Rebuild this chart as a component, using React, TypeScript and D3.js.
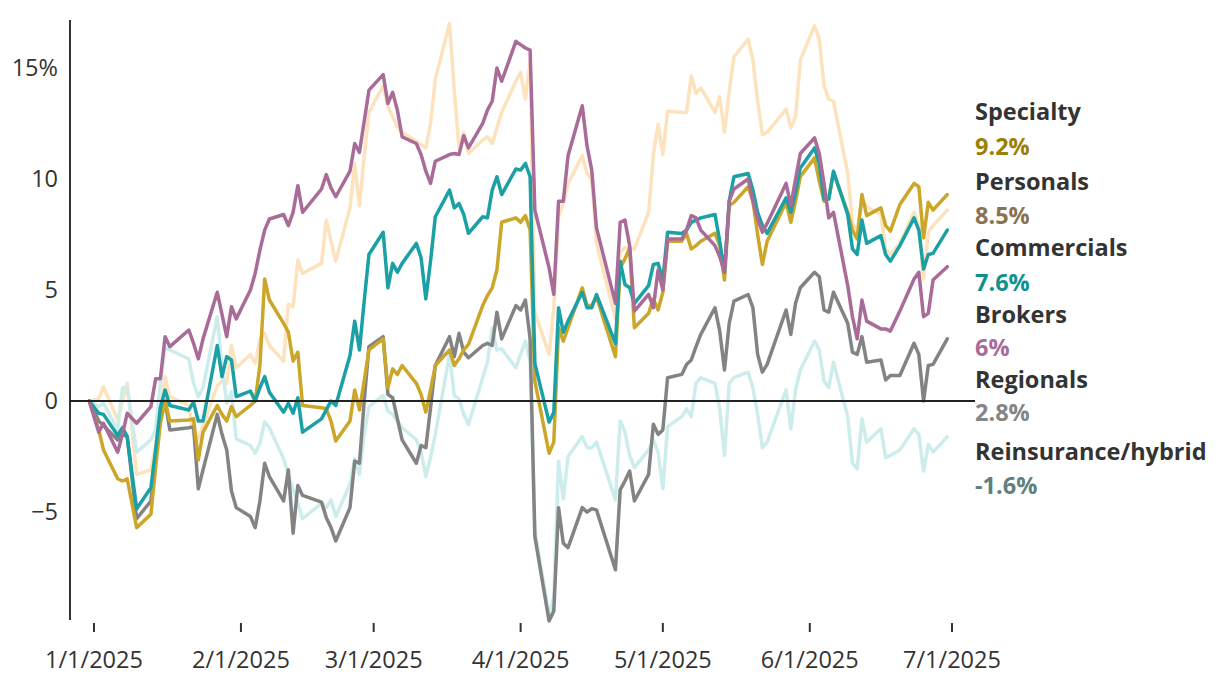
import React from "react";
import * as d3 from "d3";

const dates: string[] = [
  "2024-12-31","2025-01-02","2025-01-03","2025-01-06","2025-01-07","2025-01-08","2025-01-10",
  "2025-01-13","2025-01-14","2025-01-15","2025-01-16","2025-01-17","2025-01-21","2025-01-22",
  "2025-01-23","2025-01-24","2025-01-27","2025-01-28","2025-01-29","2025-01-30","2025-01-31",
  "2025-02-03","2025-02-04","2025-02-05","2025-02-06","2025-02-07","2025-02-10","2025-02-11",
  "2025-02-12","2025-02-13","2025-02-14","2025-02-18","2025-02-19","2025-02-20","2025-02-21",
  "2025-02-24","2025-02-25","2025-02-26","2025-02-27","2025-02-28","2025-03-03","2025-03-04",
  "2025-03-05","2025-03-06","2025-03-07","2025-03-10","2025-03-11","2025-03-12","2025-03-13",
  "2025-03-14","2025-03-17","2025-03-18","2025-03-19","2025-03-20","2025-03-21","2025-03-24",
  "2025-03-25","2025-03-26","2025-03-27","2025-03-28","2025-03-31","2025-04-01","2025-04-02",
  "2025-04-03","2025-04-04","2025-04-07","2025-04-08","2025-04-09","2025-04-10","2025-04-11",
  "2025-04-14","2025-04-15","2025-04-16","2025-04-17","2025-04-21","2025-04-22","2025-04-23",
  "2025-04-24","2025-04-25","2025-04-28","2025-04-29","2025-04-30","2025-05-01","2025-05-02",
  "2025-05-05","2025-05-06","2025-05-07","2025-05-08","2025-05-09","2025-05-12","2025-05-13",
  "2025-05-14","2025-05-15","2025-05-16","2025-05-19","2025-05-20","2025-05-21","2025-05-22",
  "2025-05-23","2025-05-27","2025-05-28","2025-05-29","2025-05-30","2025-06-02","2025-06-03",
  "2025-06-04","2025-06-05","2025-06-06","2025-06-09","2025-06-10","2025-06-11","2025-06-12",
  "2025-06-13","2025-06-16","2025-06-17","2025-06-18","2025-06-20","2025-06-23","2025-06-24",
  "2025-06-25","2025-06-26","2025-06-27","2025-06-30",
];

const specialty: number[] = [
  0, -1.3, -2.2, -3.5, -3.6, -3.5, -5.7, -5.1, -3.0, -1.0, 0.0, -0.9, -0.85, -0.8, -2.65, -1.4,
  -0.2, -0.6, -0.9, -0.25, -0.7, -0.2, 0.0, 1.6, 5.5, 4.55, 3.5, 3.1, 1.8, 2.2, -0.2, -0.3, -0.35,
  -0.9, -1.8, -0.9, 0.5, -0.4, 0.9, 2.3, 2.8, 0.6, 1.45, 1.2, 1.6, 0.8, 0.3, -0.5, 0.5, 1.6, 2.3,
  1.6, 1.9, 2.3, 2.55, 4.3, 4.75, 5.1, 5.9, 8.05, 8.25, 8.05, 8.35, 7.7, 0.9, -2.35, -1.85, 3.3,
  2.7, 3.3, 5.1, 4.3, 4.3, 4.7, 2.0, 6.0, 6.4, 6.9, 3.3, 3.95, 4.6, 4.1, 4.9, 7.2, 7.2, 7.55, 6.85,
  7.0, 7.2, 7.55, 7.0, 5.45, 8.8, 8.95, 9.65, 9.0, 7.5, 6.15, 7.2, 8.95, 8.05, 9.0, 10.1, 10.95,
  9.9, 9.0, 9.1, 10.3, 8.5, 7.7, 7.3, 9.3, 8.35, 8.7, 7.9, 7.65, 8.85, 9.8, 9.65, 7.35, 8.95, 8.6,
  9.3,
];

const personals: number[] = [
  0, 0.1, 0.65, -0.85, 0.0, 0.8, -3.3, -3.1, -2.0, -0.3, 1.1, 0.2, -0.2, -1.5, -1.7, -1.1, 0.7,
  0.9, 0.8, 2.5, 1.5, 2.1, 1.7, 2.8, 3.05, 2.5, 1.8, 4.35, 4.25, 6.35, 5.75, 6.2, 8.15, 7.2, 6.3,
  8.7, 10.7, 8.8, 11.0, 13.0, 14.2, 13.25, 12.8, 12.35, 12.1, 11.7, 11.55, 11.4, 12.5, 14.5, 17.0,
  14.0, 11.4, 12.1, 11.15, 11.75, 11.9, 11.6, 12.3, 13.0, 14.4, 14.8, 13.6, 15.3, 4.0, 2.1, 4.2,
  8.3, 8.9, 9.8, 11.05, 10.25, 10.0, 7.1, 3.7, 6.7, 6.9, 6.9, 6.85, 8.5, 11.1, 12.45, 11.1, 13.05,
  13.0, 13.0, 14.65, 13.85, 14.1, 13.0, 13.7, 12.1, 13.95, 15.5, 16.3, 15.35, 13.5, 12.0, 12.1,
  13.15, 12.3, 12.8, 15.35, 16.9, 16.3, 14.2, 13.6, 13.5, 10.25, 8.0, 7.7, 9.05, 8.75, 8.4, 6.85,
  6.6, 7.1, 8.5, 7.9, 5.5, 7.6, 7.9, 8.6,
];

const commercials: number[] = [
  0, -0.55, -0.6, -1.55, -1.2, -1.6, -4.85, -3.9, -2.2, -0.3, 0.5, -0.2, -0.4, -0.05, -0.9, -0.9,
  2.5, 1.1, 2.0, 1.85, 0.2, 0.45, 0.0, 0.6, 1.1, 0.4, -0.5, -0.1, -0.55, 0.15, -1.4, -0.8, -0.4,
  0.0, -0.2, 2.05, 3.6, 2.3, 4.5, 6.6, 7.6, 5.1, 6.2, 5.8, 6.2, 7.1, 6.45, 4.6, 6.3, 8.3, 9.5, 8.7,
  8.9, 8.4, 7.55, 8.3, 8.25, 9.5, 10.1, 9.3, 10.45, 10.4, 10.7, 10.1, 1.7, -0.95, -0.5, 4.2, 3.1,
  3.6, 4.9, 4.2, 4.2, 4.8, 2.6, 6.3, 5.25, 5.1, 4.4, 5.2, 6.15, 6.2, 5.45, 7.6, 7.55, 7.7, 8.05,
  8.15, 8.25, 8.4, 7.2, 5.8, 9.0, 10.1, 10.25, 9.5, 8.5, 7.9, 7.55, 9.15, 8.5, 9.4, 10.5, 11.4,
  10.7, 9.1, 9.1, 10.35, 8.4, 6.85, 6.6, 8.15, 7.1, 7.45, 6.6, 6.3, 7.0, 8.25, 7.7, 5.95, 6.6,
  6.65, 7.7,
];

const brokers: number[] = [
  0, -1.4, -1.0, -2.3, -1.5, -0.55, -1.0, -0.25, 1.0, 1.0, 2.9, 2.45, 3.2, 2.6, 1.9, 2.8, 4.9, 3.9,
  2.9, 4.25, 3.7, 5.0, 5.75, 6.8, 7.7, 8.2, 8.4, 7.9, 8.5, 9.7, 8.5, 9.55, 10.2, 9.6, 9.2, 10.35,
  11.6, 11.2, 12.6, 14.0, 14.7, 13.4, 13.9, 13.1, 11.9, 11.6, 11.1, 10.35, 9.8, 10.8, 11.1, 11.15,
  11.1, 11.95, 11.4, 12.5, 13.1, 13.5, 15.0, 14.4, 16.2, 16.05, 15.9, 15.8, 8.6, 6.0, 4.8, 9.0,
  9.0, 11.05, 13.3, 11.5, 10.4, 7.8, 4.4, 8.05, 8.15, 7.0, 4.05, 4.8, 4.2, 5.9, 5.0, 7.3, 7.3, 7.7,
  8.35, 8.25, 7.7, 7.0, 6.5, 5.8, 9.0, 9.55, 10.0, 9.0, 8.2, 7.6, 8.0, 9.8, 8.8, 10.0, 11.15,
  11.85, 11.15, 9.8, 8.25, 8.5, 5.2, 3.8, 2.8, 4.55, 3.6, 3.25, 3.25, 3.15, 4.05, 5.5, 5.8, 3.8,
  3.95, 5.45, 6.05,
];

const regionals: number[] = [
  0, -0.9, -1.1, -1.75, -1.5, -1.6, -5.3, -4.5, -2.5, -0.8, 0.0, -1.3, -1.2, -1.15, -3.95, -3.1,
  -0.6, -1.5, -2.2, -4.05, -4.8, -5.2, -5.7, -4.5, -2.8, -3.4, -4.5, -3.1, -5.95, -3.8, -4.25,
  -4.55, -5.25, -5.7, -6.3, -4.8, -2.7, -2.8, 0.0, 2.45, 2.9, 0.3, 0.15, -0.8, -1.75, -2.8, -2.0,
  -2.1, -0.3, 1.6, 2.9, 2.0, 3.05, 2.2, 1.95, 2.5, 2.6, 2.5, 4.0, 2.8, 4.3, 4.1, 4.55, 2.8, -6.1,
  -9.9, -9.45, -4.8, -6.4, -6.6, -4.8, -5.0, -4.85, -4.9, -7.6, -4.0, -3.6, -3.15, -4.5, -3.3,
  -1.05, -1.5, -1.3, 1.05, 1.2, 1.65, 1.85, 2.45, 3.0, 4.2, 3.15, 1.4, 3.5, 4.5, 4.8, 4.2, 2.1,
  1.3, 1.65, 4.1, 3.0, 4.4, 5.1, 5.8, 5.6, 4.1, 4.0, 4.9, 3.5, 2.2, 2.1, 2.9, 1.75, 1.85, 0.95,
  1.15, 1.15, 2.6, 2.1, 0.0, 1.6, 1.65, 2.8,
];

const reinsurance: number[] = [
  0, -0.25, -0.1, -1.3, 0.6, 0.6, -2.3, -1.75, -1.3, 0.8, 2.4, 2.3, 1.9, 0.8, 0.2, 0.6, 3.8, 1.6,
  -0.1, 0.4, -1.7, -2.0, -2.35, -1.9, -0.95, -1.2, -2.6, -3.3, -4.0, -4.6, -5.3, -4.6, -4.8,
  -4.45, -5.2, -3.75, -2.6, -3.3, -1.5, -0.25, 0.25, -0.45, -0.6, -0.9, -1.2, -1.75, -2.3, -3.4,
  -2.55, -1.5, 2.1, 0.25, 0.1, -0.6, -1.05, 1.05, 1.75, 3.3, 2.3, 2.35, 1.5, 2.1, 2.7, 1.8, -5.8,
  -9.7, -8.8, -2.7, -4.4, -2.5, -1.6, -2.1, -2.1, -1.85, -4.45, -0.9, -1.4, -2.45, -3.0, -2.2,
  -1.75, -2.3, -3.95, -1.15, -0.7, -0.35, -0.7, 0.8, 1.05, 0.8, -0.35, -2.45, 0.8, 1.05, 1.3, 0.6,
  -0.6, -2.1, -1.85, 0.5, -1.25, 0.5, 1.4, 2.7, 2.3, 0.9, 0.6, 1.75, -0.7, -2.8, -3.05, -0.8,
  -1.85, -1.25, -2.55, -2.45, -2.2, -1.25, -1.5, -3.15, -1.95, -2.3, -1.6,
];

const legendNames: string[] = ["Specialty", "Personals", "Commercials", "Brokers", "Regionals", "Reinsurance/hybrid"];
const legendValues: string[] = ["9.2%", "8.5%", "7.6%", "6%", "2.8%", "-1.6%"];
const xTickDates: string[] = ["2025-01-01", "2025-02-01", "2025-03-01", "2025-04-01", "2025-05-01", "2025-06-01", "2025-07-01"];
const yTicks: number[] = [-5, 0, 5, 10, 15];

const W = 1220;
const H = 688;
const FONT = "'Open Sans', 'Noto Sans', sans-serif";

const parse = (s: string) => {
  const [y, m, d] = s.split("-").map(Number);
  return new Date(y, m - 1, d);
};

export default function App() {
  const x = d3.scaleTime().domain([parse("2025-01-01"), parse("2025-07-01")]).range([94, 952]);
  const y = d3.scaleLinear().domain([-9.86, 17.16]).range([620, 20]);
  const parsed = dates.map(parse);

  const line = d3
    .line<number>()
    .x((_, i) => x(parsed[i]))
    .y((v) => y(v));

  const series = [
    { values: personals, color: "#fde3bd" },
    { values: reinsurance, color: "#cdeded" },
    { values: regionals, color: "#838383" },
    { values: specialty, color: "#cba629" },
    { values: commercials, color: "#1ba0a5" },
    { values: brokers, color: "#a96b98" },
  ];

  const valueColors = ["#9c7f05", "#8a7352", "#0f9190", "#a96b98", "#858585", "#608080"];
  const nameY = [120, 190, 256, 323, 388, 460];
  const valY = [155, 224, 291, 356, 421, 494];
  const fmtTick = d3.timeFormat("%-m/%-d/%Y");
  const fmtY = (v: number) => (v === 15 ? "15%" : d3.format("")(v).replace("-", "\u2212"));
  const FS = 23.5;

  return (
    <svg width={W} height={H} style={{ position: "absolute", left: 0, top: 0, background: "#fff" }} fontFamily={FONT}>
      <rect x={0} y={0} width={W} height={H} fill="#fff" />
      <line x1={70} x2={70} y1={y.range()[1]} y2={y.range()[0]} stroke="#333" strokeWidth={2} />
      {yTicks.map((t) => (
        <text key={t} x={58} y={y(t)} dy="0.35em" textAnchor="end" fontSize={FS} fill="#333">
          {fmtY(t)}
        </text>
      ))}
      {xTickDates.map((s) => {
        const xx = x(parse(s));
        return (
          <g key={s}>
            <line x1={xx} x2={xx} y1={623} y2={632} stroke="#333" strokeWidth={2} />
            <text x={xx} y={668} textAnchor="middle" fontSize={FS} fill="#333">
              {fmtTick(parse(s))}
            </text>
          </g>
        );
      })}
      {series.map((s, i) => (
        <path
          key={i}
          d={line(s.values) || ""}
          fill="none"
          stroke={s.color}
          strokeWidth={3.5}
          strokeLinejoin="round"
          strokeLinecap="round"
        />
      ))}
      <line x1={70} x2={975} y1={y(0)} y2={y(0)} stroke="#222" strokeWidth={2} />
      {legendNames.map((n, i) => (
        <g key={n}>
          <text x={975} y={nameY[i]} fontSize={FS} fontWeight={700} fill="#333">
            {n}
          </text>
          <text x={975} y={valY[i]} fontSize={FS} fontWeight={700} fill={valueColors[i]}>
            {legendValues[i]}
          </text>
        </g>
      ))}
    </svg>
  );
}
